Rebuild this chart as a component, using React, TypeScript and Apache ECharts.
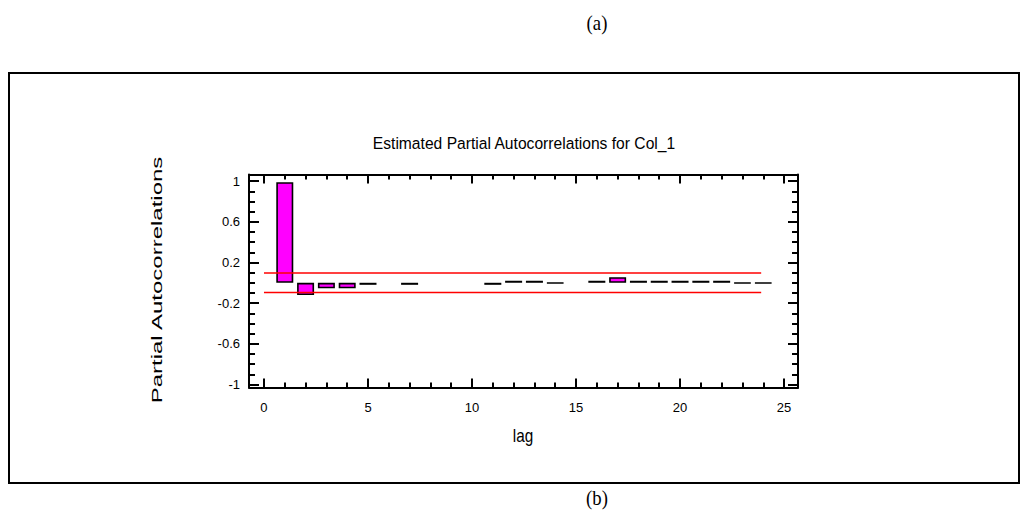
import React, { useEffect, useRef } from "react";
import * as echarts from "echarts";

// ---- data ----
const lags: number[] = [1, 2, 3, 4, 5, 7, 11, 12, 13, 14, 16, 17, 18, 19, 20, 21, 22, 23, 24];
const pacf: number[] = [0.99, -0.12, -0.055, -0.055, -0.02, -0.02, -0.02, 0.02, 0.02, -0.003, 0.02, 0.055, 0.02, 0.02, 0.02, 0.02, 0.02, -0.003, -0.003];
const limitUpper = 0.095;
const limitLower = -0.095;
const limitFrom = 0;
const limitTo = 23.9;
const xMajorTicks: number[] = [0, 5, 10, 15, 20, 25];
const xMinorTicks: number[] = Array.from({ length: 26 }, (_, i) => i);
const yMajorTicks: number[] = [-1, -0.6, -0.2, 0.2, 0.6, 1];
const yMinorTicks: number[] = [-1, -0.9, -0.8, -0.7, -0.6, -0.5, -0.4, -0.3, -0.2, -0.1, 0, 0.1, 0.2, 0.3, 0.4, 0.5, 0.6, 0.7, 0.8, 0.9, 1];
const titleText = "Estimated Partial Autocorrelations for Col_1";
const xName = "lag";
const yName = "Partial Autocorrelations";

const XMIN = -0.72;
const XMAX = 25.67;
const YMIN = -1.03;
const YMAX = 1.065;

const SANS = "'Liberation Sans', Arial, sans-serif";
const SERIF = "'Liberation Serif', 'Times New Roman', serif";

function makeX(position: "bottom" | "top", ticks: number[], len: number, labels: boolean, line: boolean) {
  return {
    type: "value",
    position,
    min: XMIN,
    max: XMAX,
    axisLine: { show: line, onZero: false, lineStyle: { color: "#000", width: 2 } },
    axisTick: { show: true, inside: true, length: len, customValues: ticks, lineStyle: { color: "#000", width: 2 } },
    axisLabel: labels
      ? { show: true, customValues: ticks, color: "#000", fontSize: 13, fontFamily: SANS, margin: 13 }
      : { show: false },
    splitLine: { show: false },
  };
}

function makeY(position: "left" | "right", ticks: number[], len: number, labels: boolean, line: boolean) {
  return {
    type: "value",
    position,
    min: YMIN,
    max: YMAX,
    axisLine: { show: line, onZero: false, lineStyle: { color: "#000", width: 2 } },
    axisTick: { show: true, inside: true, length: len, customValues: ticks, lineStyle: { color: "#000", width: 2 } },
    axisLabel: labels
      ? {
          show: true,
          customValues: ticks,
          color: "#000",
          fontSize: 13,
          fontFamily: SANS,
          margin: 9,
          formatter: (v: number) => String(Math.round(v * 10) / 10),
        }
      : { show: false },
    splitLine: { show: false },
  };
}

export default function App() {
  const ref = useRef<HTMLDivElement>(null);

  useEffect(() => {
    if (!ref.current) return;
    const chart = echarts.init(ref.current, undefined, { renderer: "svg" });
    const barData = lags.map((l, i) => [l, pacf[i]]);
    chart.setOption({
      animation: false,
      backgroundColor: "#fff",
      grid: { left: 249, top: 174.5, width: 549, height: 213, containLabel: false },
      xAxis: [
        makeX("bottom", xMajorTicks, 9, true, true),
        makeX("bottom", xMinorTicks, 5, false, false),
        makeX("top", xMajorTicks, 9, false, true),
        makeX("top", xMinorTicks, 5, false, false),
      ],
      yAxis: [
        makeY("left", yMajorTicks, 10, true, true),
        makeY("left", yMinorTicks, 6, false, false),
        makeY("right", yMajorTicks, 10, false, true),
        makeY("right", yMinorTicks, 6, false, false),
      ],
      series: [
        {
          type: "bar",
          xAxisIndex: 0,
          yAxisIndex: 0,
          data: barData,
          barWidth: 17,
          itemStyle: { color: "#ff00ff", borderColor: "#000", borderWidth: 1.6 },
        },
        {
          type: "line",
          xAxisIndex: 0,
          yAxisIndex: 0,
          data: [[limitFrom, limitUpper], [limitTo, limitUpper]],
          symbol: "none",
          lineStyle: { color: "#ff0000", width: 1.5 },
        },
        {
          type: "line",
          xAxisIndex: 0,
          yAxisIndex: 0,
          data: [[limitFrom, limitLower], [limitTo, limitLower]],
          symbol: "none",
          lineStyle: { color: "#ff0000", width: 1.5 },
        },
      ],
      graphic: [
        {
          type: "rect",
          shape: { x: 9, y: 73, width: 1010, height: 410 },
          style: { fill: "none", stroke: "#000", lineWidth: 2 },
          z: 0,
        },
        {
          type: "text",
          x: 597,
          y: 22,
          scaleX: 0.85,
          style: { text: "(a)", font: `22px ${SERIF}`, fill: "#000", align: "center", verticalAlign: "middle" },
        },
        {
          type: "text",
          x: 597,
          y: 497,
          scaleX: 0.85,
          style: { text: "(b)", font: `22px ${SERIF}`, fill: "#000", align: "center", verticalAlign: "middle" },
        },
        {
          type: "text",
          x: 524,
          y: 143,
          scaleX: 0.92,
          style: { text: titleText, font: `17px ${SANS}`, fill: "#000", align: "center", verticalAlign: "middle" },
        },
        {
          type: "text",
          x: 523,
          y: 436,
          scaleX: 0.85,
          style: { text: xName, font: `18px ${SANS}`, fill: "#000", align: "center", verticalAlign: "middle" },
        },
        {
          type: "text",
          x: 157,
          y: 280,
          rotation: Math.PI / 2,
          scaleY: 0.62,
          style: { text: yName, font: `24px ${SANS}`, fill: "#000", align: "center", verticalAlign: "middle" },
        },
      ],
    });
    return () => chart.dispose();
  }, []);

  return <div ref={ref} style={{ width: 1024, height: 512, position: "absolute", left: 0, top: 0 }} />;
}
